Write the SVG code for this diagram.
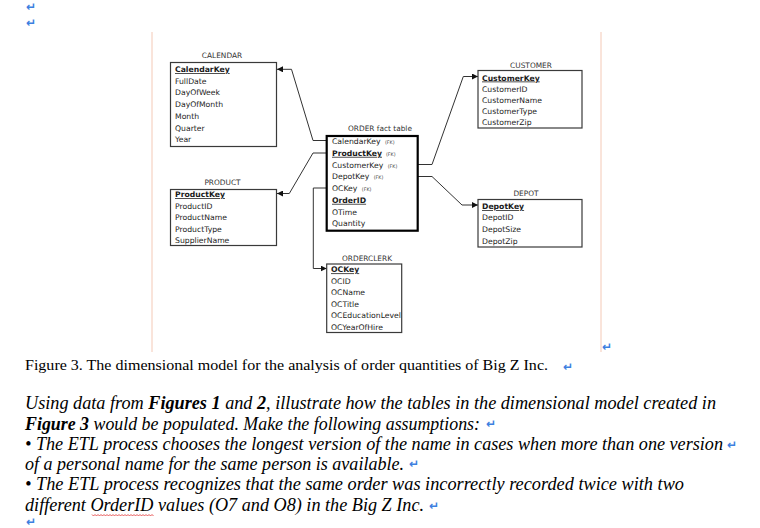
<svg xmlns="http://www.w3.org/2000/svg" width="760" height="528" viewBox="0 0 760 528">
<defs>
<style>
.hdr{font-family:"DejaVu Sans",Verdana,sans-serif;font-size:7.4px;fill:#333;text-anchor:middle}
.f{font-family:"DejaVu Sans",Verdana,sans-serif;font-size:7.7px;fill:#222}
.k{font-family:"DejaVu Sans",Verdana,sans-serif;font-size:7.7px;fill:#1a1a1a;font-weight:bold;text-decoration:underline}
.fk{font-family:"DejaVu Sans",Verdana,sans-serif;font-size:4.8px;fill:#444}
.box{fill:#fff;stroke:#3a3a3a;stroke-width:1.2}
.fact{fill:#fff;stroke:#000;stroke-width:2.2}
.con{fill:none;stroke:#333;stroke-width:1}
.para{font-family:"Liberation Serif","Times New Roman",serif;font-size:18.5px;font-style:italic;fill:#000}
.cap{font-family:"Liberation Serif","Times New Roman",serif;font-size:15.5px;fill:#000}
.ret{font-family:"DejaVu Sans",sans-serif;font-size:12px;font-weight:bold;fill:#3d7fe0}
.frame{stroke:#f4c9b6;stroke-width:1}
</style>
<marker id="ah" viewBox="0 0 6 6" refX="6" refY="3" markerWidth="6" markerHeight="6" markerUnits="userSpaceOnUse" orient="auto">
<path d="M0,0 L6,3 L0,6 z" fill="#111"/>
</marker>
</defs>
<rect width="760" height="528" fill="#fff"/>

<!-- paragraph marks at top -->
<text class="ret" x="26" y="11">↵</text>
<text class="ret" x="26" y="27">↵</text>

<!-- figure frame edges -->
<line class="frame" x1="152" y1="32" x2="152" y2="352"/>
<line class="frame" x1="601" y1="32" x2="601" y2="352"/>
<text class="ret" x="602" y="351">↵</text>

<g id="connectors">
<polyline class="con" points="326.7,140.5 313,140.5 291.5,69.3 277,69.3" marker-end="url(#ah)"/>
<polyline class="con" points="326.7,153 313,153 289.3,193.5 277,193.5" marker-end="url(#ah)"/>
<polyline class="con" points="417.7,164.5 432,164.5 463.3,76.5 478,76.5" marker-end="url(#ah)"/>
<polyline class="con" points="417.7,176.5 432,176.5 462,205 478,205" marker-end="url(#ah)"/>
<polyline class="con" points="326.7,188 313.3,188 313.3,268.5 326.7,268.5" marker-end="url(#ah)"/>
</g>

<g id="calendar">
<text class="hdr" x="222" y="58">CALENDAR</text>
<rect class="box" x="170.5" y="62.5" width="106" height="84"/>
<text class="k" x="175" y="72">CalendarKey</text>
<text class="f" x="175" y="83.7">FullDate</text>
<text class="f" x="175" y="95.4">DayOfWeek</text>
<text class="f" x="175" y="107.1">DayOfMonth</text>
<text class="f" x="175" y="118.8">Month</text>
<text class="f" x="175" y="130.5">Quarter</text>
<text class="f" x="175" y="142.2">Year</text>
</g>

<g id="product">
<text class="hdr" x="222.5" y="184.5">PRODUCT</text>
<rect class="box" x="170.5" y="189.5" width="106" height="56"/>
<text class="k" x="175" y="197">ProductKey</text>
<text class="f" x="175" y="208.5">ProductID</text>
<text class="f" x="175" y="220">ProductName</text>
<text class="f" x="175" y="231.8">ProductType</text>
<text class="f" x="175" y="243.3">SupplierName</text>
</g>

<g id="customer">
<text class="hdr" x="531" y="67.5">CUSTOMER</text>
<rect class="box" x="478" y="70.5" width="104" height="57.5"/>
<text class="k" x="482" y="80.5">CustomerKey</text>
<text class="f" x="482" y="91.7">CustomerID</text>
<text class="f" x="482" y="102.9">CustomerName</text>
<text class="f" x="482" y="114.1">CustomerType</text>
<text class="f" x="482" y="125.3">CustomerZip</text>
</g>

<g id="order">
<text class="hdr" x="380" y="131">ORDER fact table</text>
<rect class="fact" x="326.7" y="136" width="91" height="94.7"/>
<text class="f" x="332" y="144">CalendarKey <tspan class="fk" dx="2">(FK)</tspan></text>
<text x="332" y="155.8"><tspan class="k">ProductKey</tspan><tspan class="fk" dx="4">(FK)</tspan></text>
<text class="f" x="332" y="167.6">CustomerKey <tspan class="fk" dx="2">(FK)</tspan></text>
<text class="f" x="332" y="179.3">DepotKey <tspan class="fk" dx="2">(FK)</tspan></text>
<text class="f" x="332" y="191">OCKey <tspan class="fk" dx="2">(FK)</tspan></text>
<text class="k" x="332" y="202.8">OrderID</text>
<text class="f" x="332" y="214.5">OTime</text>
<text class="f" x="332" y="226.2">Quantity</text>
</g>

<g id="depot">
<text class="hdr" x="526" y="196">DEPOT</text>
<rect class="box" x="478" y="199.5" width="104" height="47.5"/>
<text class="k" x="482" y="209">DepotKey</text>
<text class="f" x="482" y="220">DepotID</text>
<text class="f" x="482" y="231.8">DepotSize</text>
<text class="f" x="482" y="243.5">DepotZip</text>
</g>

<g id="orderclerk">
<text class="hdr" x="367" y="260.5">ORDERCLERK</text>
<rect class="box" x="326.7" y="264" width="75" height="68.5"/>
<text class="k" x="331" y="272.3">OCKey</text>
<text class="f" x="331" y="283.5">OCID</text>
<text class="f" x="331" y="295">OCName</text>
<text class="f" x="331" y="306.5">OCTitle</text>
<text class="f" x="331" y="318">OCEducationLevel</text>
<text class="f" x="331" y="329.5">OCYearOfHire</text>
</g>

<!-- caption and paragraph -->
<text class="cap" x="25" y="370" textLength="523" lengthAdjust="spacingAndGlyphs">Figure 3. The dimensional model for the analysis of order quantities of Big Z Inc.</text>
<text class="ret" x="563" y="370.5">↵</text>

<text class="para" x="25" y="409" textLength="691" lengthAdjust="spacingAndGlyphs">Using data from <tspan font-weight="bold">Figures 1</tspan> and <tspan font-weight="bold">2</tspan>, illustrate how the tables in the dimensional model created in</text>
<text class="para" x="25" y="429.5" textLength="455" lengthAdjust="spacingAndGlyphs"><tspan font-weight="bold">Figure 3</tspan> would be populated. Make the following assumptions:</text>
<text class="ret" x="486" y="428">↵</text>
<text class="para" x="25" y="450" textLength="698" lengthAdjust="spacingAndGlyphs">• The ETL process chooses the longest version of the name in cases when more than one version</text>
<text class="ret" x="727" y="448.5">↵</text>
<text class="para" x="25" y="469.5" textLength="379" lengthAdjust="spacingAndGlyphs">of a personal name for the same person is available.</text>
<text class="ret" x="409" y="468">↵</text>
<text class="para" x="25" y="490" textLength="659" lengthAdjust="spacingAndGlyphs">• The ETL process recognizes that the same order was incorrectly recorded twice with two</text>
<text class="para" x="25" y="511" textLength="399" lengthAdjust="spacingAndGlyphs">different OrderID values (O7 and O8) in the Big Z Inc.</text>
<text class="ret" x="429" y="509.5">↵</text>
<path d="M92,514.5 l1.5,1.5 l1.5,-1.5 l1.5,1.5 l1.5,-1.5 l1.5,1.5 l1.5,-1.5 l1.5,1.5 l1.5,-1.5 l1.5,1.5 l1.5,-1.5 l1.5,1.5 l1.5,-1.5 l1.5,1.5 l1.5,-1.5 l1.5,1.5 l1.5,-1.5 l1.5,1.5 l1.5,-1.5 l1.5,1.5 l1.5,-1.5 l1.5,1.5 l1.5,-1.5 l1.5,1.5 l1.5,-1.5 l1.5,1.5 l1.5,-1.5 l1.5,1.5 l1.5,-1.5 l1.5,1.5 l1.5,-1.5 l1.5,1.5 l1.5,-1.5 l1.5,1.5 l1.5,-1.5 l1.5,1.5 l1.5,-1.5 l1.5,1.5 l1.5,-1.5 l1.5,1.5 l1.5,-1.5 l1.5,1.5" fill="none" stroke="#e03030" stroke-width="0.8"/>
<text class="ret" x="26" y="526">↵</text>
</svg>
